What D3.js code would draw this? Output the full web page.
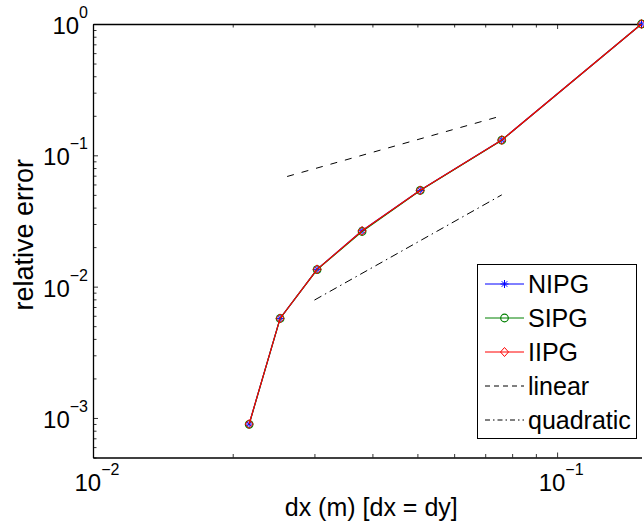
<!DOCTYPE html>
<html>
<head>
<meta charset="utf-8">
<script src="https://cdn.jsdelivr.net/npm/d3@7"></script>
<style>
  body { margin: 0; background: #fff; }
  svg { display: block; font-family: "Liberation Sans", Arial, sans-serif; }
</style>
</head>
<body>
<svg id="chart" width="644" height="527"></svg>
<script>
// mesh size and relative errors
const dx = [0.152, 0.076, 0.0507, 0.038, 0.0304, 0.0253, 0.0217];
const nipg = [1.0, 0.1308, 0.0541, 0.02665, 0.01354, 0.00573, 0.000899];
const sipg = [1.0, 0.1305, 0.0540, 0.02630, 0.01350, 0.00572, 0.000895];
const iipg = [1.0, 0.1308, 0.0541, 0.02660, 0.01354, 0.00573, 0.000899];

// reference slopes
const linearX = [0.0262, 0.076];
const linearY = [0.069, 0.2];
const quadX = [0.030, 0.076];
const quadY = [0.0079, 0.05];

const xMajor = [1e-2, 1e-1];
const xMajorExp = ['-2', '-1'];
const yMajor = [1e-3, 1e-2, 1e-1, 1];
const yMajorExp = ['-3', '-2', '-1', '0'];

const legendNames = ['NIPG', 'SIPG', 'IIPG', 'linear', 'quadratic'];

const svg = d3.select('#chart');
const pLeft = 93, pRight = 641.5, pTop = 24, pBottom = 457.5;

const x = d3.scaleLog().domain([0.01, 0.152]).range([pLeft, pRight]);
const y = d3.scaleLog().domain([5e-4, 1]).range([pBottom, pTop]);

// minor ticks for log axes
const logTicks = (lo, hi) => {
  const out = [];
  for (let e = -4; e <= 0; e++) {
    for (let m = 1; m <= 9; m++) {
      const v = m * Math.pow(10, e);
      if (v >= lo * 0.999 && v <= hi * 1.001) out.push(v);
    }
  }
  return out;
};
const xTicks = logTicks(0.01, 0.152);
const yTicks = logTicks(5e-4, 1);
const isMajor = (v) => Math.abs(Math.log10(v) - Math.round(Math.log10(v))) < 1e-6;

const ax = svg.append('g');
// bottom
ax.append('g').attr('transform', `translate(0,${pBottom})`)
  .call(d3.axisBottom(x).tickValues(xTicks).tickFormat('').tickSizeOuter(0))
  .call(g => g.selectAll('.tick line').attr('y2', d => isMajor(d) ? -5 : -3.5));
// top
ax.append('g').attr('transform', `translate(0,${pTop})`)
  .call(d3.axisTop(x).tickValues(xTicks).tickFormat('').tickSizeOuter(0))
  .call(g => g.selectAll('.tick line').attr('y2', d => isMajor(d) ? 5 : 3.5));
// left
ax.append('g').attr('transform', `translate(${pLeft},0)`)
  .call(d3.axisLeft(y).tickValues(yTicks).tickFormat('').tickSizeOuter(0))
  .call(g => g.selectAll('.tick line').attr('x2', d => isMajor(d) ? 5 : 3.5));
ax.selectAll('.domain').attr('stroke', '#000').attr('stroke-width', 1.3);
ax.selectAll('.tick line').attr('stroke', '#000').attr('stroke-width', 0.8);

// tick labels 10^n
xMajor.forEach((v, i) => {
  const t = svg.append('text')
    .attr('x', x(v) + 4).attr('y', 490.5)
    .attr('text-anchor', 'middle')
    .style('font-size', '24px');
  t.append('tspan').text('10');
  t.append('tspan').attr('dy', -16).style('font-size', '16px').text('\u2212' + xMajorExp[i].slice(1));
});
yMajor.forEach((v, i) => {
  const t = svg.append('text')
    .attr('x', 88).attr('y', y(v) + 10)
    .attr('text-anchor', 'end')
    .style('font-size', '24px');
  t.append('tspan').text('10');
  const e = yMajorExp[i];
  t.append('tspan').attr('dy', -16).style('font-size', '16px')
    .text(e.startsWith('-') ? '\u2212' + e.slice(1) : e);
});

// axis titles
svg.append('text').attr('x', (pLeft + pRight) / 2 + 4).attr('y', 516)
  .attr('text-anchor', 'middle').style('font-size', '25px')
  .text('dx (m) [dx = dy]');
svg.append('text').attr('transform', `translate(33,${(pTop + pBottom) / 2 - 6}) rotate(-90)`)
  .attr('text-anchor', 'middle').style('font-size', '27px')
  .text('relative error');

const line = d3.line().x(d => x(d[0])).y(d => y(d[1]));

// reference lines
svg.append('path').datum(d3.zip(linearX, linearY)).attr('d', line)
  .attr('fill', 'none').attr('stroke', '#000').attr('stroke-width', 1)
  .attr('stroke-dasharray', '7,8');
svg.append('path').datum(d3.zip(quadX, quadY)).attr('d', line)
  .attr('fill', 'none').attr('stroke', '#000').attr('stroke-width', 1)
  .attr('stroke-dasharray', '8,4,1.5,4');

// markers
const star = (g, cx, cy, c) => {
  const r = 4;
  [[-r, 0, r, 0], [0, -r, 0, r], [-r * 0.7, -r * 0.7, r * 0.7, r * 0.7], [-r * 0.7, r * 0.7, r * 0.7, -r * 0.7]]
    .forEach(s => g.append('line').attr('x1', cx + s[0]).attr('y1', cy + s[1])
      .attr('x2', cx + s[2]).attr('y2', cy + s[3]).attr('stroke', c).attr('stroke-width', 1));
};
const circle = (g, cx, cy, c) => g.append('circle').attr('cx', cx).attr('cy', cy).attr('r', 3.8)
  .attr('fill', 'none').attr('stroke', c).attr('stroke-width', 1.2);
const diamond = (g, cx, cy, c) => g.append('path')
  .attr('d', `M${cx},${cy - 4.5}L${cx + 4},${cy}L${cx},${cy + 4.5}L${cx - 4},${cy}Z`)
  .attr('fill', 'none').attr('stroke', c).attr('stroke-width', 1);

const series = [
  { vals: nipg, color: '#0000ff', mark: star },
  { vals: sipg, color: '#008000', mark: circle },
  { vals: iipg, color: '#ff0000', mark: diamond },
];
series.forEach(s => {
  const g = svg.append('g');
  g.append('path').datum(d3.zip(dx, s.vals)).attr('d', line)
    .attr('fill', 'none').attr('stroke', s.color).attr('stroke-width', 1.2);
  dx.forEach((d, i) => s.mark(g, x(d), y(s.vals[i]), s.color));
});

// legend
const lg = svg.append('g');
lg.append('rect').attr('x', 477.5).attr('y', 264.5).attr('width', 159).attr('height', 174)
  .attr('fill', '#fff').attr('stroke', '#000').attr('stroke-width', 1);
const rowY = [284, 318, 352, 386, 420];
const legendStyle = [
  { color: '#0000ff', dash: null, mark: star },
  { color: '#008000', dash: null, mark: circle },
  { color: '#ff0000', dash: null, mark: diamond },
  { color: '#000', dash: '5,4', mark: null },
  { color: '#000', dash: '5,3,1.5,3', mark: null },
];
legendNames.forEach((name, i) => {
  const st = legendStyle[i];
  const ly = rowY[i];
  lg.append('line').attr('x1', 485).attr('x2', 524).attr('y1', ly).attr('y2', ly)
    .attr('stroke', st.color).attr('stroke-width', 1)
    .attr('stroke-dasharray', st.dash);
  if (st.mark) st.mark(lg, 504.5, ly, st.color);
  lg.append('text').attr('x', 528).attr('y', ly + 9)
    .style('font-size', '25px').text(name);
});
</script>
</body>
</html>
